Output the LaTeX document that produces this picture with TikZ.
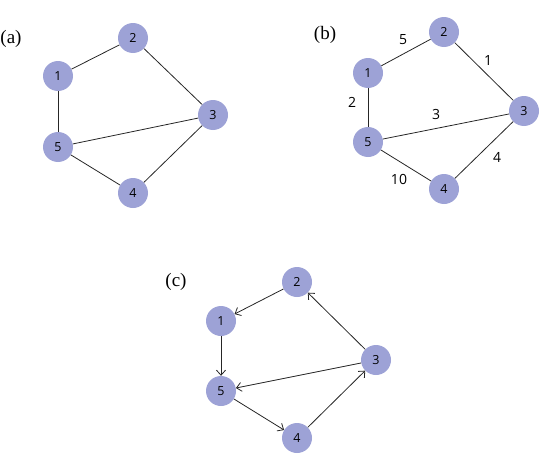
\documentclass[tikz,border=0pt]{standalone}
\usepackage{fontspec}
\setmainfont{Liberation Serif}
\newfontfamily\numfont{Open Sans}
\usetikzlibrary{arrows.meta}
\definecolor{nodefill}{RGB}{157,162,214}
\begin{document}
\begin{tikzpicture}[x=1pt,y=-1pt,
  vtx/.style={circle,fill=nodefill,draw=none,minimum size=30pt,inner sep=0pt,font=\numfont\fontsize{12.5}{12.5}\selectfont},
  edge/.style={draw=black!85,line width=0.8pt},
  arc/.style={edge,-{Straight Barb[length=5pt,width=9pt]}},
  wlab/.style={font=\numfont\fontsize{14}{14}\selectfont,inner sep=0pt},
  plab/.style={font=\fontsize{19}{19}\selectfont,inner sep=0pt}]
\useasboundingbox (0,0) rectangle (541,463);
% (a)
\node[plab] (la) at (11,39) {(a)};
\node[vtx] (a1) at (58,76) {1};
\node[vtx] (a2) at (133,38) {2};
\node[vtx] (a3) at (213,115) {3};
\node[vtx] (a4) at (133,193) {4};
\node[vtx] (a5) at (58,147) {5};
\draw[edge] (a1) -- (a2);
\draw[edge] (a2) -- (a3);
\draw[edge] (a1) -- (a5);
\draw[edge] (a5) -- (a3);
\draw[edge] (a5) -- (a4);
\draw[edge] (a4) -- (a3);
% (b)
\node[plab] (lb) at (325,35) {(b)};
\node[vtx] (b1) at (368,73) {1};
\node[vtx] (b2) at (444,32) {2};
\node[vtx] (b3) at (524,111) {3};
\node[vtx] (b4) at (444,189) {4};
\node[vtx] (b5) at (368,142) {5};
\draw[edge] (b1) -- (b2);
\draw[edge] (b2) -- (b3);
\draw[edge] (b1) -- (b5);
\draw[edge] (b5) -- (b3);
\draw[edge] (b5) -- (b4);
\draw[edge] (b4) -- (b3);
\node[wlab] (w12) at (403,40) {5};
\node[wlab] (w23) at (488,61) {1};
\node[wlab] (w15) at (352,102) {2};
\node[wlab] (w53) at (436,114) {3};
\node[wlab] (w43) at (497,157) {4};
\node[wlab] (w54) at (399,179) {10};
% (c)
\node[plab] (lc) at (176,282) {(c)};
\node[vtx] (c1) at (221,321) {1};
\node[vtx] (c2) at (297,282) {2};
\node[vtx] (c3) at (376,360) {3};
\node[vtx] (c4) at (297,438) {4};
\node[vtx] (c5) at (221,391) {5};
\draw[arc] (c2) -- (c1);
\draw[arc] (c3) -- (c2);
\draw[arc] (c1) -- (c5);
\draw[arc] (c3) -- (c5);
\draw[arc] (c5) -- (c4);
\draw[arc] (c4) -- (c3);
\end{tikzpicture}
\end{document}
